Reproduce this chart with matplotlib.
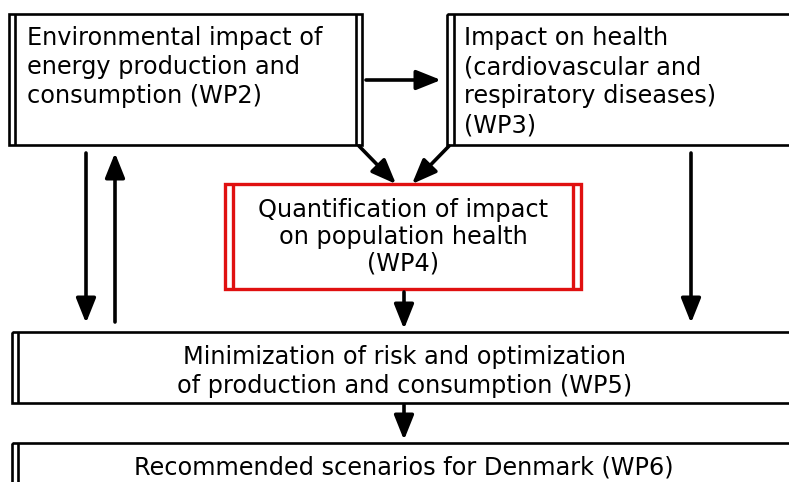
import matplotlib
matplotlib.use("Agg")
import matplotlib.pyplot as plt
from matplotlib.patches import Rectangle

W, H = 789, 482

# box texts
wp2_lines = ["Environmental impact of", "energy production and", "consumption (WP2)"]
wp3_lines = ["Impact on health", "(cardiovascular and", "respiratory diseases)", "(WP3)"]
wp4_lines = ["Quantification of impact", "on population health", "(WP4)"]
wp5_lines = ["Minimization of risk and optimization", "of production and consumption (WP5)"]
wp6_lines = ["Recommended scenarios for Denmark (WP6)"]

fig = plt.figure(figsize=(W / 100, H / 100), dpi=100)
ax = fig.add_axes([0, 0, 1, 1])
ax.set_xlim(0, W)
ax.set_ylim(H, 0)
ax.axis("off")

FS = 17.3
LW = 1.9


def box(x0, y0, x1, y1, color="black", left=True, right=False, gap=6, lw=LW):
    ax.add_patch(Rectangle((x0, y0), x1 - x0, y1 - y0, fill=False,
                           edgecolor=color, lw=lw))
    if left:
        ax.plot([x0 + gap, x0 + gap], [y0, y1], color=color, lw=lw,
                solid_capstyle="butt")
    if right:
        ax.plot([x1 - gap, x1 - gap], [y0, y1], color=color, lw=lw,
                solid_capstyle="butt")


def arrow(x0, y0, x1, y1):
    ax.annotate("", xy=(x1, y1), xytext=(x0, y0),
                arrowprops=dict(arrowstyle="-|>,head_width=0.3,head_length=0.75",
                                lw=2.6, color="black", mutation_scale=20,
                                shrinkA=0, shrinkB=0))


def lines(txts, x, ys, ha="left"):
    for t, y in zip(txts, ys):
        ax.text(x, y, t, fontsize=FS, ha=ha, va="center", color="black",
                family="DejaVu Sans")


# boxes
box(9, 14, 362, 145, left=True, right=True, gap=6)
box(447, 14, 800, 145, left=True, gap=7)
box(225, 184, 581, 289, color="#e01010", left=True, right=True, gap=8, lw=2.4)
box(12, 332, 800, 403, left=True, gap=6)
box(12, 443, 800, 500, left=True, gap=6)

# texts
lines(wp2_lines, 27, [38, 67, 96])
lines(wp3_lines, 464, [38, 67, 96, 125])
lines(wp4_lines, 403, [210, 237, 263], ha="center")
lines(wp5_lines, 405, [357, 386], ha="center")
lines(wp6_lines, 404, [467], ha="center")

# arrows
arrow(366, 80, 441, 80)
arrow(359, 146, 396, 184)
arrow(449, 146, 412, 184)
arrow(86, 153, 86, 323)
arrow(115, 322, 115, 153)
arrow(691, 153, 691, 323)
arrow(404, 292, 404, 329)
arrow(404, 405, 404, 440)

fig.savefig("out.png", dpi=100)
